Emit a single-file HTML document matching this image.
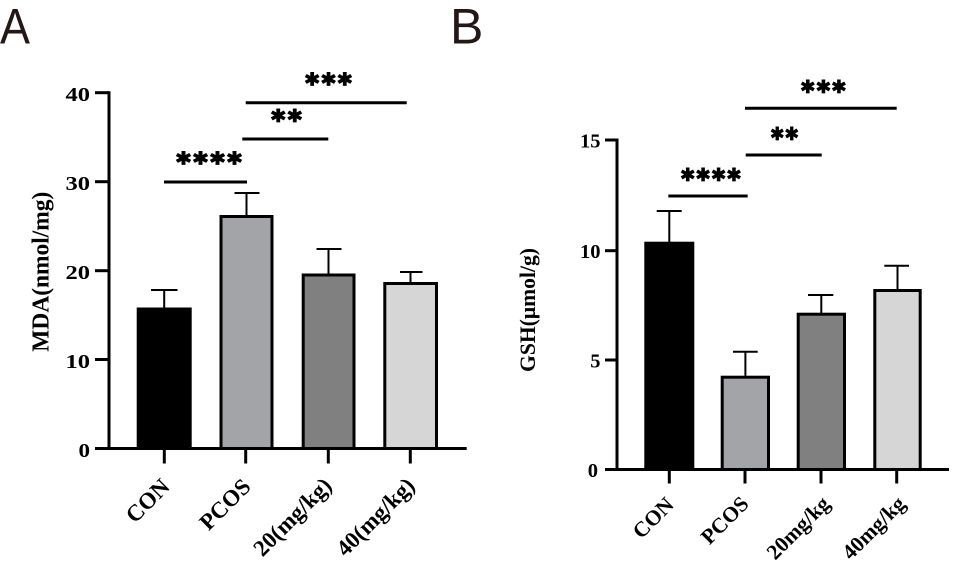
<!DOCTYPE html>
<html>
<head>
<meta charset="utf-8">
<style>
html,body{margin:0;padding:0;background:#fff;}
svg{display:block;}
text{font-family:"Liberation Serif","DejaVu Serif",serif;font-weight:bold;fill:#000;}
.lt{font-family:"Liberation Sans","DejaVu Sans",sans-serif;font-weight:normal;fill:#231815;}
.st{font-family:"DejaVu Sans","Liberation Sans",sans-serif;font-weight:bold;}
</style>
</head>
<body>
<svg width="953" height="568" viewBox="0 0 953 568" xmlns="http://www.w3.org/2000/svg">
  <!-- Panel letters -->
  <text class="lt" x="0" y="43.3" font-size="50" textLength="30" lengthAdjust="spacingAndGlyphs">A</text>
  <text class="lt" x="450" y="43.3" font-size="50">B</text>

  <!-- ================= Panel A ================= -->
  <rect x="138.2" y="309" width="52" height="139.5" fill="#000" stroke="#000" stroke-width="3"/>
  <rect x="221" y="216.5" width="51" height="232" fill="#a3a4a8" stroke="#000" stroke-width="3"/>
  <rect x="303.2" y="275" width="50.8" height="173.5" fill="#808080" stroke="#000" stroke-width="3"/>
  <rect x="384.8" y="283.5" width="51.7" height="165" fill="#d6d6d6" stroke="#000" stroke-width="3"/>
  <g stroke="#000" stroke-width="2" fill="none">
    <line x1="164.2" y1="308" x2="164.2" y2="290"/><line x1="151" y1="290" x2="177.5" y2="290"/>
    <line x1="246.5" y1="216" x2="246.5" y2="193"/><line x1="234.5" y1="193" x2="259.5" y2="193"/>
    <line x1="328.5" y1="274" x2="328.5" y2="249"/><line x1="316.5" y1="249" x2="341.5" y2="249"/>
    <line x1="410.5" y1="282" x2="410.5" y2="272"/><line x1="400" y1="272" x2="422.5" y2="272"/>
  </g>
  <g stroke="#000" stroke-width="3" fill="none">
    <line x1="109" y1="91.2" x2="109" y2="450"/>
    <line x1="95" y1="448.5" x2="466.7" y2="448.5"/>
    <line x1="95" y1="92.7" x2="109" y2="92.7"/>
    <line x1="95" y1="181.7" x2="109" y2="181.7"/>
    <line x1="95" y1="270.7" x2="109" y2="270.7"/>
    <line x1="95" y1="359.5" x2="109" y2="359.5"/>
    <line x1="164.3" y1="448" x2="164.3" y2="463.5"/>
    <line x1="245.7" y1="448" x2="245.7" y2="463.5"/>
    <line x1="328.3" y1="448" x2="328.3" y2="463.5"/>
    <line x1="410.3" y1="448" x2="410.3" y2="463.5"/>
  </g>
  <g font-size="20.5" text-anchor="end">
    <text x="90" y="101" textLength="24.5" lengthAdjust="spacingAndGlyphs">40</text>
    <text x="90" y="190" textLength="24.5" lengthAdjust="spacingAndGlyphs">30</text>
    <text x="90" y="279" textLength="24.5" lengthAdjust="spacingAndGlyphs">20</text>
    <text x="90" y="367.8" textLength="24.5" lengthAdjust="spacingAndGlyphs">10</text>
    <text x="90" y="456.8" textLength="11.5" lengthAdjust="spacingAndGlyphs">0</text>
  </g>
  <text transform="translate(48.5,271.7) rotate(-90)" text-anchor="middle" font-size="24" textLength="160" lengthAdjust="spacingAndGlyphs">MDA(nmol/mg)</text>
  <g font-size="23" text-anchor="end">
    <text transform="translate(171,488) rotate(-45)">CON</text>
    <text transform="translate(252,488) rotate(-45)">PCOS</text>
    <text transform="translate(333,487) rotate(-45)">20(mg/kg)</text>
    <text transform="translate(416,487) rotate(-45)">40(mg/kg)</text>
  </g>
  <g stroke="#000" stroke-width="3">
    <line x1="164" y1="182" x2="247" y2="182"/>
    <line x1="242.3" y1="139" x2="328.3" y2="139"/>
    <line x1="245.7" y1="102.7" x2="406.7" y2="102.7"/>
  </g>
  <g class="st" font-size="18" dominant-baseline="central">
    <text x="175" y="158.5" textLength="68" lengthAdjust="spacingAndGlyphs">✱✱✱✱</text>
    <text x="270" y="116" textLength="33" lengthAdjust="spacingAndGlyphs">✱✱</text>
    <text x="304" y="79.5" textLength="49" lengthAdjust="spacingAndGlyphs">✱✱✱</text>
  </g>

  <!-- ================= Panel B ================= -->
  <rect x="645.8" y="243.2" width="47" height="226.3" fill="#000" stroke="#000" stroke-width="3"/>
  <rect x="722.2" y="377.2" width="46.3" height="92.3" fill="#a3a4a8" stroke="#000" stroke-width="3"/>
  <rect x="798.2" y="314.2" width="46.3" height="155.3" fill="#808080" stroke="#000" stroke-width="3"/>
  <rect x="874.8" y="290.5" width="45.4" height="179" fill="#d6d6d6" stroke="#000" stroke-width="3"/>
  <g stroke="#000" stroke-width="2" fill="none">
    <line x1="669.3" y1="242" x2="669.3" y2="211"/><line x1="656.7" y1="211" x2="681.7" y2="211"/>
    <line x1="745.4" y1="376" x2="745.4" y2="351.7"/><line x1="733" y1="351.7" x2="757.7" y2="351.7"/>
    <line x1="821.3" y1="313" x2="821.3" y2="295"/><line x1="808" y1="295" x2="833.3" y2="295"/>
    <line x1="897.5" y1="289" x2="897.5" y2="265.7"/><line x1="884.3" y1="265.7" x2="909" y2="265.7"/>
  </g>
  <g stroke="#000" stroke-width="3" fill="none">
    <line x1="617" y1="138.5" x2="617" y2="471"/>
    <line x1="605" y1="469.5" x2="949" y2="469.5"/>
    <line x1="605" y1="140" x2="617" y2="140"/>
    <line x1="605" y1="250.7" x2="617" y2="250.7"/>
    <line x1="605" y1="360" x2="617" y2="360"/>
    <line x1="669.3" y1="469" x2="669.3" y2="483.5"/>
    <line x1="745" y1="469" x2="745" y2="483.5"/>
    <line x1="821" y1="469" x2="821" y2="483.5"/>
    <line x1="896.7" y1="469" x2="896.7" y2="483.5"/>
  </g>
  <g font-size="20.5" text-anchor="end">
    <text x="600.5" y="147.5">15</text>
    <text x="600.5" y="258.2">10</text>
    <text x="600.5" y="367.5">5</text>
    <text x="598" y="477">0</text>
  </g>
  <text transform="translate(535,310) rotate(-90)" text-anchor="middle" font-size="22" textLength="124" lengthAdjust="spacingAndGlyphs">GSH(μmol/g)</text>
  <g font-size="21.5" text-anchor="end">
    <text transform="translate(675,506) rotate(-45)">CON</text>
    <text transform="translate(750,505) rotate(-45)">PCOS</text>
    <text transform="translate(831,505) rotate(-45)">20mg/kg</text>
    <text transform="translate(906.5,505) rotate(-45)">40mg/kg</text>
  </g>
  <g stroke="#000" stroke-width="3">
    <line x1="668.3" y1="196" x2="747.7" y2="196"/>
    <line x1="745.7" y1="155" x2="821.7" y2="155"/>
    <line x1="745" y1="108.3" x2="896.7" y2="108.3"/>
  </g>
  <g class="st" font-size="18" dominant-baseline="central">
    <text x="680" y="175" textLength="61.7" lengthAdjust="spacingAndGlyphs">✱✱✱✱</text>
    <text x="770" y="134" textLength="29" lengthAdjust="spacingAndGlyphs">✱✱</text>
    <text x="800" y="87" textLength="46.7" lengthAdjust="spacingAndGlyphs">✱✱✱</text>
  </g>
</svg>
</body>
</html>
